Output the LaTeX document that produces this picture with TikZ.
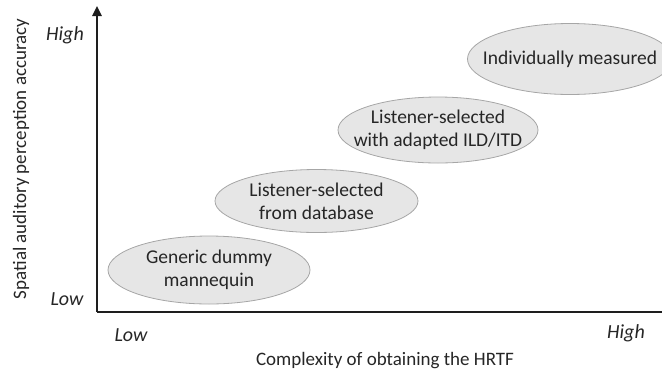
\documentclass[tikz,border=0pt]{standalone}
\usepackage{fontspec}
\setmainfont{Carlito}
\usetikzlibrary{shapes.geometric,arrows.meta}
\definecolor{blobfill}{HTML}{E6E6E6}
\definecolor{blobline}{HTML}{A6A6A6}
\definecolor{axiscol}{HTML}{1E1E1E}
\tikzset{
  blob/.style={ellipse, draw=blobline, fill=blobfill, line width=0.8pt,
    inner sep=0pt},
  blobtext/.style={align=center, inner sep=0pt, text=black!85,
    font=\fontsize{19.5}{23}\selectfont},
  axis/.style={draw=axiscol, line width=2.4pt},
  ticktext/.style={font=\fontsize{20}{22}\selectfont\itshape, text=black!85},
  axistitle/.style={font=\fontsize{19}{21}\selectfont, text=black!85}
}
\begin{document}
\begin{tikzpicture}[x=1pt,y=-1pt]
  \useasboundingbox (0,0) rectangle (662,373);
  % axes
  \coordinate (origin) at (97,312);
  \coordinate (ytop) at (97,6);
  \coordinate (xend) at (662,312);
  \draw[axis, -{Triangle[length=10pt,width=9pt]}] (origin) -- (ytop);
  \draw[axis] (origin) -- (xend);
  % axis labels
  \node[ticktext] (yhigh) at (65,35) {High};
  \node[ticktext] (ylow) at (67,299) {Low};
  \node[ticktext] (xlow) at (131,335) {Low};
  \node[ticktext] (xhigh) at (626,333) {High};
  \node[axistitle] (xtitle) at (385,361) {Complexity of obtaining the HRTF};
  \node[axistitle, rotate=90] (ytitle) at (21,159) {Spatial auditory perception accuracy};
  % HRTF approaches
  \node[blob, minimum width=202pt, minimum height=68pt] (generic) at (209,270) {};
  \node[blobtext] at (generic) {Generic dummy\\mannequin};
  \node[blob, minimum width=203pt, minimum height=63pt] (database) at (316.5,201) {};
  \node[blobtext] at (database) {Listener-selected\\from database};
  \node[blob, minimum width=200pt, minimum height=66pt] (adapted) at (438,130) {};
  \node[blobtext] at (adapted) {Listener-selected\\with adapted ILD/ITD};
  \node[blob, minimum width=205pt, minimum height=71pt] (measured) at (570,59) {};
  \node[blobtext] at (measured) {Individually measured};
\end{tikzpicture}
\end{document}
